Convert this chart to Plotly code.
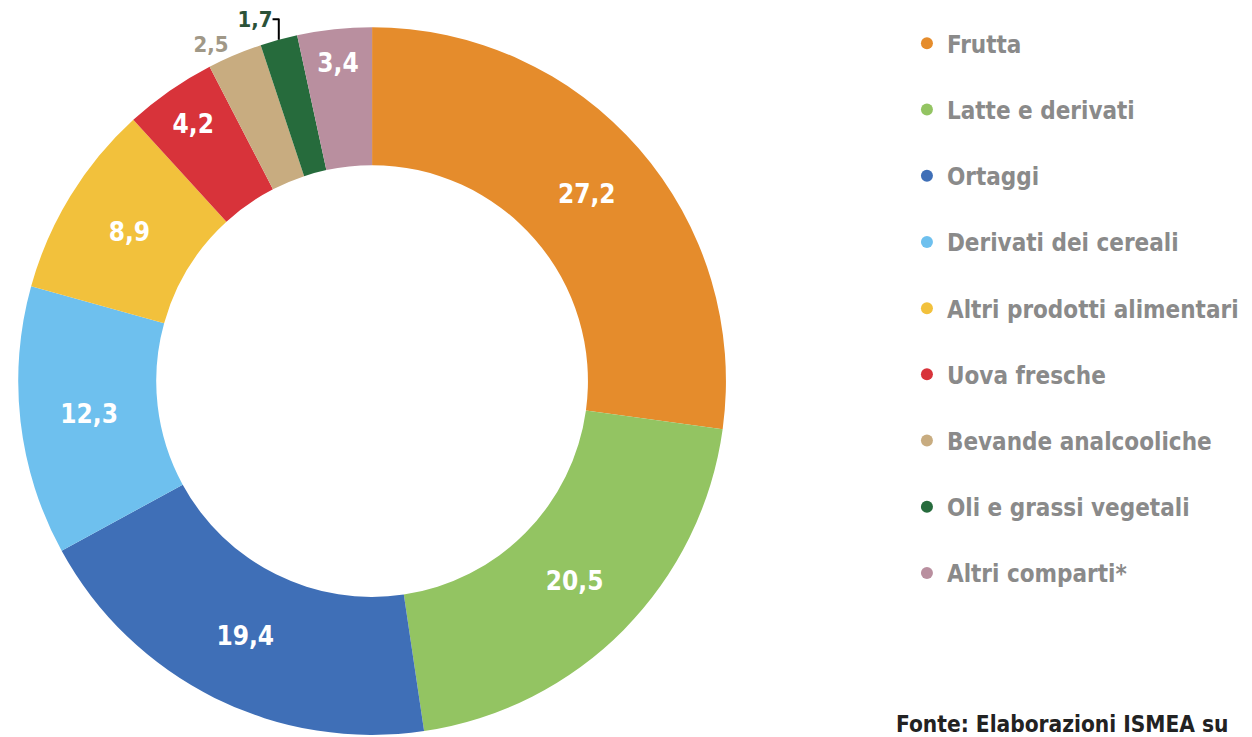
import plotly.graph_objects as go

categories = ["Frutta", "Latte e derivati", "Ortaggi", "Derivati dei cereali",
              "Altri prodotti alimentari", "Uova fresche", "Bevande analcooliche",
              "Oli e grassi vegetali", "Altri comparti*"]
values = [27.2, 20.5, 19.4, 12.3, 8.9, 4.2, 2.5, 1.7, 3.4]
value_labels = ["27,2", "20,5", "19,4", "12,3", "8,9", "4,2", "2,5", "1,7", "3,4"]
colors = ["#E58C2C", "#93C462", "#3F6FB7", "#6EC0EE", "#F2C13C",
          "#D8333A", "#C8AC80", "#266B3C", "#B98F9F"]
text_positions = ["inside"] * 6 + ["outside", "outside", "inside"]
text_colors = ["white"] * 6 + ["#A09887", "#2B5238", "white"]

FONT = "DejaVu Sans Condensed, DejaVu Sans, sans-serif"

fig = go.Figure()
fig.add_trace(go.Pie(
    labels=categories, values=values, text=value_labels,
    textinfo="text", texttemplate="<b>%{text}</b>",
    textposition=text_positions,
    insidetextorientation="horizontal",
    insidetextfont=dict(family=FONT, size=26, color=text_colors),
    outsidetextfont=dict(family=FONT, size=22, color=text_colors),
    marker=dict(colors=colors, line=dict(width=0)),
    hole=0.61, sort=False, direction="clockwise", rotation=0,
    showlegend=False,
    domain=dict(x=[0.008, 0.5736], y=[0.0137, 0.974]),
    automargin=False,
))

for c, col in zip(categories, colors):
    fig.add_trace(go.Scatter(
        x=[None], y=[None], mode="markers", name="<b>" + c + "</b>",
        legendgroup=c,
        marker=dict(symbol="circle", size=24, color=col),
        xaxis="x", yaxis="y",
    ))

fig.update_layout(
    width=1252, height=737,
    margin=dict(l=0, r=0, t=0, b=0),
    paper_bgcolor="white", plot_bgcolor="white",
    xaxis=dict(visible=False, domain=[0.75, 1.0]),
    yaxis=dict(visible=False, domain=[0, 1]),
    legend=dict(
        x=0.718, y=0.982, xanchor="left", yanchor="top",
        font=dict(family=FONT, size=24, color="#8A8A8A"),
        tracegroupgap=32, itemsizing="constant",
        bgcolor="rgba(0,0,0,0)",
    ),
    annotations=[dict(
        text="<b>Fonte: Elaborazioni ISMEA su</b>", xref="paper", yref="paper",
        x=0.708, y=0.028, xanchor="left", yanchor="middle", showarrow=False,
        font=dict(family=FONT, size=22.5, color="#222222"),
    )],
)

fig.write_html("out.html")
